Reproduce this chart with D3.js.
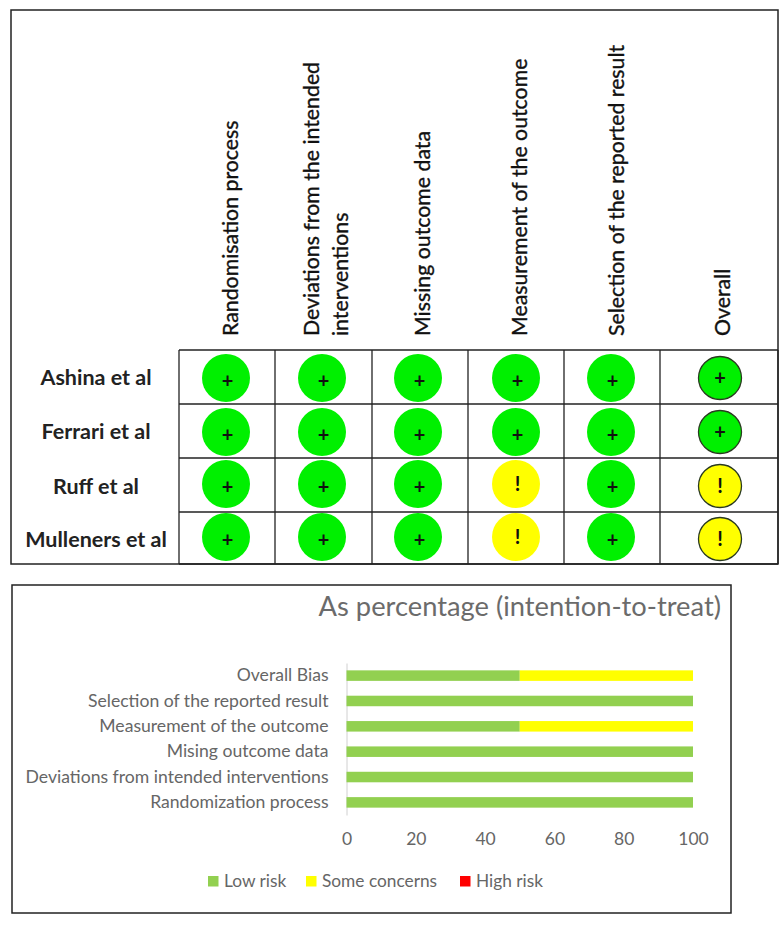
<!DOCTYPE html>
<html>
<head>
<meta charset="utf-8">
<script src="https://d3js.org/d3.v7.min.js"></script>
<style>
body { margin: 0; background: #fff; }
svg { display: block; }
text { font-family: Lato, "Open Sans", sans-serif; }
</style>
</head>
<body>
<div id="chart"></div>
<script>
// traffic light table
var studies = ["Ashina et al", "Ferrari et al", "Ruff et al", "Mulleners et al"];
var domains = ["Randomisation process", "Deviations from the intended interventions", "Missing outcome data", "Measurement of the outcome", "Selection of the reported result", "Overall"];
var judgements = [
    ["+", "+", "+", "+", "+", "+"],
    ["+", "+", "+", "+", "+", "+"],
    ["+", "+", "+", "!", "+", "!"],
    ["+", "+", "+", "!", "+", "!"]
];

// summary bars, listed top to bottom as in the picture
var biasCategories = ["Overall Bias", "Selection of the reported result", "Measurement of the outcome", "Mising outcome data", "Deviations from intended interventions", "Randomization process"];
var lowRisk = [50, 100, 50, 100, 100, 100];
var someConcerns = [50, 0, 50, 0, 0, 0];
var highRisk = [0, 0, 0, 0, 0, 0];
var xTicks = [0, 20, 40, 60, 80, 100];
var legendLabels = ["Low risk", "Some concerns", "High risk"];

var width = 784, height = 927;

var svg = d3.select("#chart").append("svg")
    .attr("width", width)
    .attr("height", height);

// ---- top panel ----
var colEdges = [179, 275, 372, 468, 564, 660, 778];
var rowEdges = [350, 404, 458, 512, 564];
var judgeColour = {"+": "#00f000", "!": "#ffff00"};

var colCentre = d3.scaleOrdinal().domain(domains).range([226, 322, 418, 516, 611, 720]);
var labelX = d3.scaleOrdinal().domain(domains).range([238, 319, 430, 527, 624, 730]);
var rowCentre = d3.scaleOrdinal().domain(studies).range([378, 432, 484, 537]);
var overallCentre = d3.scaleOrdinal().domain(studies).range([378, 432, 486, 539]);
var studyLabelY = d3.scaleOrdinal().domain(studies).range([385, 439, 494, 547]);

svg.append("rect")
    .attr("x", 11).attr("y", 10)
    .attr("width", 767).attr("height", 554)
    .attr("fill", "none").attr("stroke", "#222").attr("stroke-width", 1.5);

var grid = svg.append("g").attr("stroke", "#222").attr("stroke-width", 1.3);
grid.selectAll("line.v").data(colEdges).enter().append("line")
    .attr("class", "v")
    .attr("x1", function(d) { return d; }).attr("x2", function(d) { return d; })
    .attr("y1", rowEdges[0]).attr("y2", rowEdges[4]);
grid.selectAll("line.h").data(rowEdges).enter().append("line")
    .attr("class", "h")
    .attr("x1", colEdges[0]).attr("x2", colEdges[6])
    .attr("y1", function(d) { return d; }).attr("y2", function(d) { return d; });

// column headers, the long one wraps on two lines
var headerLines = {"Deviations from the intended interventions": ["Deviations from the intended", "interventions"]};
domains.forEach(function(name) {
    var lines = headerLines[name] || [name];
    lines.forEach(function(line, i) {
        svg.append("text")
            .attr("transform", "translate(" + (labelX(name) + i * 29) + ",336) rotate(-90)")
            .attr("font-size", 21.3)
            .attr("fill", "#111")
            .attr("stroke", "#111")
            .attr("stroke-width", 0.35)
            .text(line);
    });
});

svg.selectAll("text.study").data(studies).enter().append("text")
    .attr("class", "study")
    .attr("x", 96)
    .attr("y", function(d) { return studyLabelY(d); })
    .attr("text-anchor", "middle")
    .attr("font-size", 21.5)
    .attr("font-weight", 700)
    .attr("fill", "#222")
    .text(function(d) { return d; });

var cells = [];
judgements.forEach(function(row, i) {
    row.forEach(function(j, k) {
        cells.push({study: studies[i], domain: domains[k], value: j, overall: k == 5});
    });
});

var cell = svg.selectAll("g.cell").data(cells).enter().append("g")
    .attr("class", "cell")
    .attr("transform", function(d) {
        var cy = d.overall ? overallCentre(d.study) : rowCentre(d.study);
        return "translate(" + colCentre(d.domain) + "," + cy + ")";
    });

cell.append("circle")
    .attr("r", function(d) { return d.overall ? 21.5 : 24; })
    .attr("fill", function(d) { return judgeColour[d.value]; })
    .attr("stroke", function(d) { return d.overall ? "#2a3a20" : "none"; })
    .attr("stroke-width", 1.3);

cell.append("text")
    .attr("x", function(d) { return d.overall ? 0 : 1.5; })
    .attr("y", function(d) { return d.overall ? 7 : (d.value == "!" ? 7 : 10); })
    .attr("text-anchor", "middle")
    .attr("font-size", 20)
    .attr("font-weight", 700)
    .attr("fill", "#111")
    .text(function(d) { return d.value; });

// ---- bottom panel ----
svg.append("rect")
    .attr("x", 12).attr("y", 585)
    .attr("width", 719).attr("height", 328)
    .attr("fill", "none").attr("stroke", "#222").attr("stroke-width", 1.5);

svg.append("text")
    .attr("x", 721).attr("y", 616)
    .attr("text-anchor", "end")
    .attr("font-size", 27.3)
    .attr("fill", "#6b6b6b")
    .text("As percentage (intention-to-treat)");

var x = d3.scaleLinear().domain([0, 100]).range([346.5, 693]);
var y = d3.scaleBand().domain(biasCategories).range([663, 815]).paddingInner(0.585).paddingOuter(0.29);

var xAxis = d3.axisBottom(x).tickValues(xTicks).tickSize(0).tickPadding(17.5);
var xG = svg.append("g").attr("transform", "translate(0,815)").call(xAxis);
xG.select(".domain").remove();
xG.selectAll("text").attr("font-size", 17.5).attr("font-family", "Lato").attr("fill", "#666");

var yAxis = d3.axisLeft(y).tickSize(0).tickPadding(18);
var yG = svg.append("g").attr("transform", "translate(346.5,0)").call(yAxis);
yG.select(".domain").attr("stroke", "#d0d0d0");
yG.selectAll("text").attr("font-size", 17.6).attr("font-family", "Lato").attr("fill", "#666");

var colours = ["#92d050", "#ffff00", "#ff0000"];
var stackRows = biasCategories.map(function(c, i) {
    return {category: c, low: lowRisk[i], some: someConcerns[i], high: highRisk[i]};
});
var stack = d3.stack().keys(["low", "some", "high"])(stackRows);

svg.selectAll("g.series").data(stack).enter().append("g")
    .attr("class", "series")
    .attr("fill", function(d, i) { return colours[i]; })
    .selectAll("rect").data(function(d) { return d; }).enter().append("rect")
    .attr("x", function(d) { return x(d[0]); })
    .attr("y", function(d) { return y(d.data.category); })
    .attr("width", function(d) { return x(d[1]) - x(d[0]); })
    .attr("height", y.bandwidth());

var legendX = d3.scaleOrdinal().domain(legendLabels).range([208, 306, 460]);
var legend = svg.selectAll("g.legend").data(legendLabels).enter().append("g")
    .attr("class", "legend")
    .attr("transform", function(d) { return "translate(" + legendX(d) + ",876)"; });
legend.append("rect")
    .attr("width", 10.5).attr("height", 10.5)
    .attr("fill", function(d, i) { return colours[i]; });
legend.append("text")
    .attr("x", 16).attr("y", 11)
    .attr("font-size", 17.3)
    .attr("fill", "#666")
    .text(function(d) { return d; });
</script>
</body>
</html>
